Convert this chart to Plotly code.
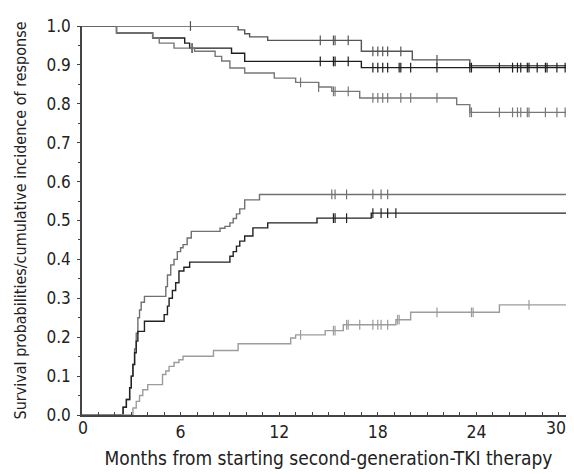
import numpy as np
import plotly.graph_objects as go

# ---- data ----
A_t = [0, 9.5, 9.9, 10.2, 11.3, 17.0, 20.1, 23.6, 30]
A_s = [1.0, 0.99, 0.98, 0.972, 0.963, 0.935, 0.913, 0.898, 0.898]
A_c = [6.6, 14.5, 15.3, 15.4, 16.2, 17.7, 18.0, 18.3, 18.6, 19.4, 21.6]

B_t = [0, 2.1, 4.3, 6.25, 6.55, 9.1, 9.9, 17.0, 30]
B_s = [1.0, 0.982, 0.969, 0.956, 0.943, 0.93, 0.909, 0.893, 0.893]
B_c = [6.7, 14.5, 15.3, 15.4, 16.2, 17.7, 18.0, 18.3, 18.6, 19.3, 19.4, 20.0, 21.6,
       23.6, 23.7, 25.4, 26.2, 26.5, 26.7, 27.1, 27.2, 27.7, 28.2, 28.3, 28.9, 29.4, 30]

C_t = [0, 2.1, 4.3, 4.7, 5.6, 6.85, 8.1, 8.5, 9.0, 9.9, 11.7, 13.0, 14.4, 15.2, 16.9, 22.8, 23.6, 30]
C_s = [1.0, 0.982, 0.969, 0.956, 0.943, 0.935, 0.922, 0.91, 0.892, 0.879, 0.866, 0.855, 0.843,
       0.832, 0.815, 0.798, 0.778, 0.778]
C_c = [6.7, 13.3, 14.4, 15.3, 15.4, 16.2, 17.7, 18.0, 18.3, 18.6, 19.4, 20.0, 21.6, 23.6, 23.7,
       25.4, 26.2, 26.5, 26.7, 27.1, 27.2, 28.2, 28.9, 29.4, 30]

D_t = [0, 2.5, 2.7, 2.9, 3.0, 3.1, 3.2, 3.3, 3.4, 3.5, 3.6, 3.8, 5.1, 5.2, 5.4, 5.6, 5.8, 6.0,
       6.15, 6.4, 6.65, 8.4, 8.7, 9.0, 9.2, 9.4, 9.6, 9.9, 10.8, 30]
D_s = [0, 0.02, 0.04, 0.07, 0.10, 0.13, 0.17, 0.21, 0.25, 0.27, 0.29, 0.305, 0.33, 0.36, 0.386,
       0.40, 0.42, 0.43, 0.438, 0.455, 0.472, 0.48, 0.485, 0.494, 0.505, 0.517, 0.53, 0.553, 0.567, 0.567]
D_c = [15.2, 15.4, 16.1, 17.7, 18.2, 18.6, 30]

E_t = [0, 2.5, 2.7, 2.9, 3.0, 3.1, 3.2, 3.3, 3.4, 3.8, 5.0, 5.2, 5.3, 5.5, 5.7, 5.9, 6.2, 6.55,
       9.0, 9.2, 9.4, 9.6, 9.9, 10.4, 11.3, 14.3, 17.6, 30]
E_s = [0, 0.02, 0.04, 0.07, 0.10, 0.13, 0.16, 0.19, 0.215, 0.241, 0.258, 0.28, 0.30, 0.32, 0.34,
       0.37, 0.38, 0.393, 0.408, 0.42, 0.434, 0.447, 0.46, 0.481, 0.494, 0.506, 0.519, 0.519]
E_c = [15.3, 15.4, 16.1, 17.7, 18.2, 18.6, 19.1, 30]

F_t = [0, 3.1, 3.3, 3.5, 3.7, 4.0, 4.9, 5.1, 5.3, 5.6, 5.9, 6.15, 8.0, 9.5, 12.7, 13.0, 14.8,
       15.9, 19.1, 20.0, 25.4, 30]
F_s = [0, 0.018, 0.035, 0.05, 0.065, 0.078, 0.104, 0.113, 0.125, 0.135, 0.142, 0.151, 0.166,
       0.183, 0.198, 0.206, 0.217, 0.232, 0.245, 0.264, 0.283, 0.283]
F_c = [13.3, 15.3, 15.4, 16.1, 16.2, 16.9, 17.7, 18.0, 18.2, 18.6, 19.2, 19.3, 21.6, 23.7, 23.8, 27.2, 30]

x_ticks_mid = [6, 12, 18, 24]
x_tick_first = 0
x_tick_last = 30
x_title = "Months from starting second-generation-TKI therapy"
y_title = "Survival probabilities/cumulative incidence of response"

curves = [
    (A_t, A_s, A_c, "#555555"),
    (B_t, B_s, B_c, "#1e1e1e"),
    (C_t, C_s, C_c, "#777777"),
    (D_t, D_s, D_c, "#707070"),
    (E_t, E_s, E_c, "#222222"),
    (F_t, F_s, F_c, "#9c9c9c"),
]

FONT = "Liberation Sans Narrow, Arial Narrow, DejaVu Sans Condensed, sans-serif"
TXT = "#222222"
AX = "#444444"

fig = go.Figure()
for t, s, c, col in curves:
    fig.add_trace(go.Scatter(x=t, y=s, mode="lines", line=dict(color=col, width=1.4, shape="hv"),
                             cliponaxis=False, showlegend=False, hoverinfo="skip"))
    idx = np.searchsorted(np.array(t), np.array(c), side="right") - 1
    cy = [s[i] for i in idx]
    fig.add_trace(go.Scatter(x=c, y=cy, mode="markers",
                             marker=dict(symbol="line-ns", size=7, line=dict(color=col, width=1.2)),
                             cliponaxis=False, showlegend=False, hoverinfo="skip"))

tickfont = dict(size=17.5, family=FONT, color=TXT)
edge_axis = dict(range=[0, 30], overlaying="x", side="bottom", anchor="y", automargin=False,
                 showgrid=False, zeroline=False, showline=False, ticks="", tickfont=tickfont,
                 ticklabeloverflow="allow")

fig.update_layout(
    width=574, height=474,
    margin=dict(l=74, r=7, t=18, b=67, autoexpand=False),
    paper_bgcolor="white", plot_bgcolor="white",
    font=dict(family=FONT, color=TXT),
    xaxis=dict(range=[0, 30], tickvals=x_ticks_mid, ticktext=[str(v) for v in x_ticks_mid],
               automargin=False,
               showgrid=False, zeroline=False, showline=True, linecolor=AX, linewidth=1.5,
               ticks="inside", ticklen=3, tickcolor=AX,
               minor=dict(dtick=1, ticks="inside", ticklen=3, tickcolor=AX),
               tickfont=tickfont,
               title=dict(text=x_title, font=dict(size=19, family=FONT, color=TXT), standoff=11)),
    xaxis2=dict(edge_axis, tickvals=[x_tick_first], ticktext=[str(x_tick_first)],
                ticklabelposition="outside right", ticklabelshift=-4),
    xaxis3=dict(edge_axis, tickvals=[x_tick_last], ticktext=[str(x_tick_last)],
                ticklabelposition="outside left", ticklabelshift=-9),
    yaxis=dict(range=[0, 1], dtick=0.1, tickformat=".1f", automargin=False,
               showgrid=False, zeroline=False, showline=True, linecolor=AX, linewidth=1.5,
               ticks="outside", ticklen=3, tickcolor=AX, ticklabelstandoff=3,
               minor=dict(dtick=0.05, ticks="outside", ticklen=2, tickcolor=AX),
               tickfont=dict(size=17, family=FONT, color=TXT),
               title=dict(text=y_title, font=dict(size=16, family=FONT, color=TXT), standoff=16)),
)
# invisible helpers so the edge-label axes are drawn
fig.add_trace(go.Scatter(x=[x_tick_first], y=[0], xaxis="x2", mode="markers",
                         marker=dict(opacity=0), showlegend=False, hoverinfo="skip"))
fig.add_trace(go.Scatter(x=[x_tick_last], y=[0], xaxis="x3", mode="markers",
                         marker=dict(opacity=0), showlegend=False, hoverinfo="skip"))

fig.write_html("out.html")
